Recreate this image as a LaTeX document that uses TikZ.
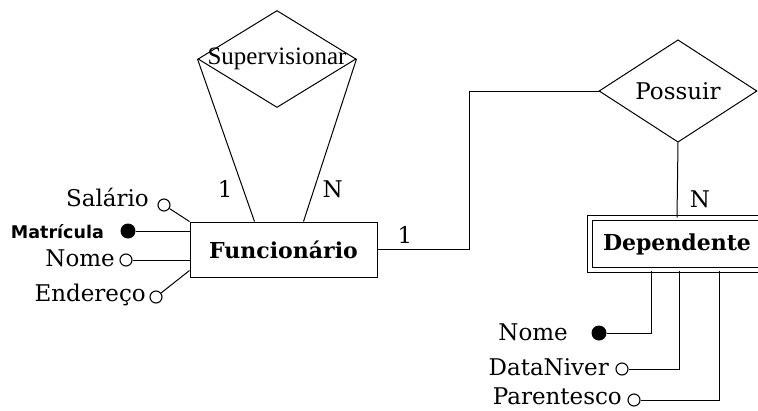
\documentclass[tikz,border=0pt]{standalone}
\usepackage{fontspec}
\setmainfont{DejaVu Serif}
\newfontfamily\supfont{Liberation Serif}
\newfontfamily\chavefont{DejaVu Sans}
\usetikzlibrary{shapes.geometric,positioning}

\tikzset{
	entidade/.style={draw,rectangle,line width=1pt,inner sep=0pt,font=\fontsize{22}{24}\selectfont\bfseries},
	relacao/.style={draw,diamond,line width=1pt,inner sep=0pt},
	atrib/.style={draw,circle,fill=white,line width=1.1pt,inner sep=0pt,minimum size=12pt},
	chave/.style={circle,fill=black,inner sep=0pt,minimum size=15pt},
	rotulo/.style={inner sep=0pt,anchor=east,font=\fontsize{23}{25}\selectfont},
	card/.style={inner sep=0pt,font=\fontsize{23}{25}\selectfont},
}

\begin{document}
\begin{tikzpicture}[x=1pt,y=-1pt]
	\clip (0,0) rectangle (758,410);
	\fill[white] (0,0) rectangle (758,410);

	\begin{scope}
		\node[entidade,minimum width=187pt,minimum height=55pt] (funcionario) at (283.5,249.5) {Funcion\'ario};
		\node[entidade,double,double distance=4pt,minimum width=174pt,minimum height=52pt] (dependente) at (677,244) {Dependente};
		\node[relacao,minimum width=158pt,minimum height=97pt,
			label={[font=\supfont\fontsize{25}{27}\selectfont,inner sep=0pt]center:Supervisionar}] (supervisionar) at (277,59) {};
		\node[relacao,minimum width=158pt,minimum height=94pt,font=\fontsize{23}{25}\selectfont] (possuir) at (678,91) {Possuir};
	\end{scope}

	\begin{scope}
		\node[atrib] (salario) at (164,205) {};
		\node[chave] (matricula) at (128,231) {};
		\node[atrib] (nome) at (126,260) {};
		\node[atrib] (endereco) at (156,297) {};
		\node[chave] (nomedep) at (599,333) {};
		\node[atrib] (dataniver) at (622,369) {};
		\node[atrib] (parentesco) at (634,400) {};

		\node[rotulo] at (149,197) {Sal\'ario};
		\node[rotulo,font=\chavefont\bfseries\fontsize{17.5}{19}\selectfont] at (104,232) {Matr\'icula};
		\node[rotulo] at (115,258) {Nome};
		\node[rotulo] at (146,295) {Endere\c{c}o};
		\node[rotulo] at (568,332) {Nome};
		\node[rotulo] at (609,367) {DataNiver};
		\node[rotulo] at (622,396) {Parentesco};
	\end{scope}

	\begin{scope}[line width=1pt]
		\draw (supervisionar.west) -- ([xshift=65pt]funcionario.north west)
			node[card,pos=0.8,left=10pt] {1};
		\draw (supervisionar.east) -- ([xshift=114pt]funcionario.north west)
			node[card,pos=0.8,right=8pt] {N};
		\draw (funcionario.east) -- ++(92,0) |- (possuir.west);
		\node[card] at (405,235) {1};
		\draw (possuir.south) -- (dependente.north)
			node[card,pos=0.75,right=12pt] {N};

		\draw (salario) -- (funcionario.north west);
		\draw (matricula) -- (matricula -| funcionario.west);
		\draw (nome) -- (nome -| funcionario.west);
		\draw (endereco) -- ([yshift=7pt]funcionario.south west);

		\draw (nomedep) -| ([xshift=62pt]dependente.south west);
		\draw (dataniver) -| ([xshift=90pt]dependente.south west);
		\draw (parentesco) -| ([xshift=130pt]dependente.south west);
	\end{scope}
\end{tikzpicture}
\end{document}
